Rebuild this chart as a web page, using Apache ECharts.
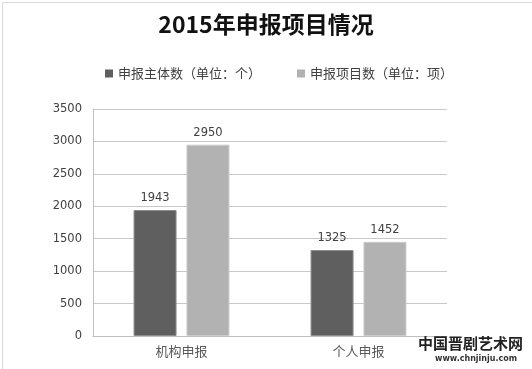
<!DOCTYPE html>
<html><head><meta charset="utf-8">
<script src="https://cdn.jsdelivr.net/npm/echarts@6/dist/echarts.min.js"></script>
<style>html,body{margin:0;padding:0;background:#fff}#c{width:532px;height:369px}</style>
</head><body><div id="c"></div>
<script>
var categories = ['机构申报', '个人申报'];
var seriesNames = ['申报主体数（单位：个）', '申报项目数（单位：项）'];
var subjectCounts = [1943, 1325];
var projectCounts = [2950, 1452];
var titleText = '2015年申报项目情况';

var font = '"Noto Sans CJK SC", "Noto Sans", sans-serif';
var numFont = '"DejaVu Sans", sans-serif';
var chart = echarts.init(document.getElementById('c'), null, {renderer: 'canvas'});
chart.setOption({
  animation: false,
  backgroundColor: '#fff',
  title: {
    text: titleText, left: 'center', top: 8,
    textStyle: {fontFamily: font, fontSize: 23, fontWeight: 'bold', color: '#111'}
  },
  legend: {
    left: 100, top: 62, itemWidth: 8, itemHeight: 8, itemGap: 36, itemStyle: {borderWidth: 0},
    icon: 'rect',
    textStyle: {fontFamily: font, fontSize: 13, color: '#404040'},
    data: seriesNames
  },
  grid: {left: 93, right: 85, top: 109, bottom: 33},
  xAxis: {
    type: 'category', data: categories,
    axisLine: {lineStyle: {color: '#bfbfbf'}},
    axisTick: {show: false},
    axisLabel: {fontFamily: font, fontSize: 13, color: '#595959', margin: 9}
  },
  yAxis: {
    type: 'value', min: 0, max: 3500, interval: 500,
    axisLine: {show: true, lineStyle: {color: '#bfbfbf'}},
    axisTick: {show: false},
    splitLine: {lineStyle: {color: '#c8c8c8'}},
    axisLabel: {fontFamily: numFont, fontSize: 11.5, color: '#404040', margin: 11,
      formatter: function (v) { return String(v); }}
  },
  series: [
    {
      name: seriesNames[0], type: 'bar', data: subjectCounts,
      barWidth: 43, barGap: '23%',
      itemStyle: {color: '#5f5f5f', borderColor: '#8c8c8c', borderWidth: 1},
      label: {show: true, position: 'top', distance: 6, fontFamily: numFont, fontSize: 11.5, color: '#404040'}
    },
    {
      name: seriesNames[1], type: 'bar', data: projectCounts,
      barWidth: 43,
      itemStyle: {color: '#b2b2b2', borderColor: '#cccccc', borderWidth: 1},
      label: {show: true, position: 'top', distance: 6, fontFamily: numFont, fontSize: 11.5, color: '#404040'}
    }
  ],
  graphic: [
    {type: 'rect', left: 0, top: 0, shape: {width: 531, height: 368},
     style: {fill: 'none', stroke: '#d9d9d9', lineWidth: 1}, silent: true, z: 100},
    {type: 'text', left: 418, top: 336,
     style: {text: '中国晋剧艺术网', font: 'bold 15px "Noto Sans CJK SC"', fill: '#222'}, z: 101},
    {type: 'text', left: 435, top: 355,
     style: {text: 'www.chnjinju.com', font: 'bold 8px "DejaVu Sans"', fill: '#333'}, z: 101}
  ]
});
</script></body></html>
